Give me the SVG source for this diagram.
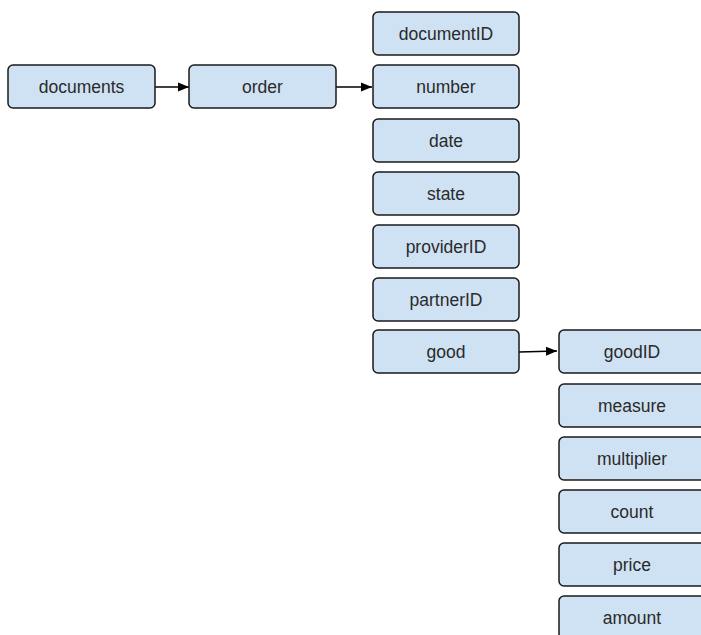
<svg xmlns="http://www.w3.org/2000/svg" width="701" height="635" viewBox="0 0 701 635">
<style>
.n rect{fill:#cfe2f3;stroke:#1a1a1a;stroke-width:1.5}
.n text{font-family:"Liberation Sans",Arial,sans-serif;font-size:17.5px;fill:#2a2a2a;text-anchor:middle;dominant-baseline:central}
.c path{stroke:#000;stroke-width:1.5;fill:none;marker-end:url(#ah)}
</style>
<defs>
<marker id="ah" markerWidth="12" markerHeight="10" refX="11" refY="5" orient="auto" markerUnits="userSpaceOnUse">
<path d="M0,0.5 L11,5 L0,9.5 Z" fill="#000"/>
</marker>
</defs>
<rect width="701" height="635" fill="#fff"/>
<g class="c">
<path d="M155,87 L189,87"/>
<path d="M336,87 L372,87"/>
<path d="M519,352 L557,351"/>
</g>
<g class="n" id="documents"><rect x="8" y="65" width="147" height="43" rx="5"/><text x="81.5" y="86.5">documents</text></g>
<g class="n" id="order"><rect x="189" y="65" width="147" height="43" rx="5"/><text x="262.5" y="86.5">order</text></g>
<g class="n" id="documentID"><rect x="373" y="12" width="146" height="43" rx="5"/><text x="446" y="33.5">documentID</text></g>
<g class="n" id="number"><rect x="373" y="65" width="146" height="43" rx="5"/><text x="446" y="86.5">number</text></g>
<g class="n" id="date"><rect x="373" y="119" width="146" height="43" rx="5"/><text x="446" y="140.5">date</text></g>
<g class="n" id="state"><rect x="373" y="172" width="146" height="43" rx="5"/><text x="446" y="193.5">state</text></g>
<g class="n" id="providerID"><rect x="373" y="225" width="146" height="43" rx="5"/><text x="446" y="246.5">providerID</text></g>
<g class="n" id="partnerID"><rect x="373" y="278" width="146" height="43" rx="5"/><text x="446" y="299.5">partnerID</text></g>
<g class="n" id="good"><rect x="373" y="330" width="146" height="43" rx="5"/><text x="446" y="351.5">good</text></g>
<g class="n" id="goodID"><rect x="559" y="330" width="146" height="43" rx="5"/><text x="632" y="351.5">goodID</text></g>
<g class="n" id="measure"><rect x="559" y="384" width="146" height="43" rx="5"/><text x="632" y="405.5">measure</text></g>
<g class="n" id="multiplier"><rect x="559" y="437" width="146" height="43" rx="5"/><text x="632" y="458.5">multiplier</text></g>
<g class="n" id="count"><rect x="559" y="490" width="146" height="43" rx="5"/><text x="632" y="511.5">count</text></g>
<g class="n" id="price"><rect x="559" y="543" width="146" height="43" rx="5"/><text x="632" y="564.5">price</text></g>
<g class="n" id="amount"><rect x="559" y="596" width="146" height="43" rx="5"/><text x="632" y="617.5">amount</text></g>
</svg>
